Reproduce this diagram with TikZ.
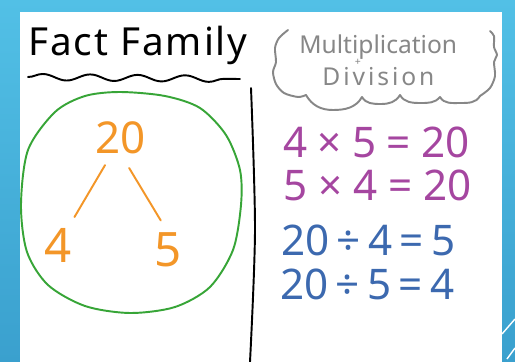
\documentclass[tikz,border=0pt]{standalone}
\usepackage{fontspec}
\setmainfont{Noto Sans}
\definecolor{ffsky}{RGB}{82,192,230}
\definecolor{ffskydark}{RGB}{58,160,206}
\definecolor{fforange}{RGB}{243,150,40}
\definecolor{ffgreen}{RGB}{55,165,55}
\definecolor{ffpurple}{RGB}{165,70,160}
\definecolor{ffnavy}{RGB}{60,105,175}
\definecolor{ffgray}{RGB}{135,135,135}
\usetikzlibrary{decorations.pathmorphing}
\tikzset{
  pen/.style={line width=1.1pt, line cap=round, line join=round},
  eqline/.style={anchor=base west, inner sep=0pt, font=\fontsize{24}{28}\selectfont},
  digit/.style={inner sep=0pt, text=fforange},
}

\begin{document}
\begin{tikzpicture}[x=0.02cm, y=0.02cm]
  \useasboundingbox (0,0) rectangle (515,-362);

  %--- Slide background ---
  \shade[top color=ffsky, bottom color=ffskydark] (0,0) rectangle (515,-362);
  \fill[white] (20,-12) rectangle (502,-362);
  \draw[white, line width=0.8pt] (515,-319) -- (502,-334);
  \draw[white, line width=0.8pt] (515,-348) -- (507,-359);

  %--- Title ---
  \node[anchor=base west, inner sep=0pt, font=\fontsize{22}{26}\selectfont\addfontfeature{LetterSpace=5}] (title) at (28,-55) {Fact Family};
  \draw[pen, decorate, decoration={snake, amplitude=1.8pt, segment length=27pt}] (28,-77) -- (240,-79);

  %--- Cloud ---
  \draw[pen, ffgray] plot[smooth] coordinates {(288,-30) (279,-38) (275,-48) (276,-62) (273,-72) (276,-84) (284,-93) (298,-97) (306,-95)};
  \draw[pen, ffgray] (306,-95) to[out=-60,in=180] (333,-110) to[out=0,in=-120] (362,-97)
    to[out=-60,in=180] (381,-104) to[out=0,in=-120] (400,-95)
    to[out=-60,in=180] (420,-103) to[out=0,in=-130] (440,-97)
    to[out=-60,in=180] (460,-103) to[out=0,in=-120] (480,-96);
  \draw[pen, ffgray] plot[smooth] coordinates {(480,-96) (490,-88) (495,-76) (494,-62) (497,-55) (494,-47) (494,-36) (490,-31)};
  \node[anchor=base west, inner sep=0pt, text depth=0pt, text=ffgray, font=\fontsize{14}{16}\selectfont] (mult) at (299,-53) {Multiplication};
  \node[anchor=base, inner sep=0pt, text height=4pt, text depth=0pt, text=ffgray, font=\fontsize{6}{7}\selectfont] (plus) at (358,-65) {+};
  \node[anchor=base west, inner sep=0pt, text=ffgray, font=\fontsize{14}{16}\selectfont\addfontfeature{LetterSpace=12}] (divi) at (322,-85) {Division};

  %--- Divider ---
  \draw[pen, black] plot[smooth] coordinates {(251,-88) (255,-230) (250,-362)};

  %--- Number bond ---
  \draw[pen, ffgreen] plot[smooth cycle] coordinates {(120,-92) (165,-96) (200,-108) (226,-135) (240,-170) (241,-205) (233,-250) (210,-287) (175,-307) (130,-313) (85,-306) (48,-285) (27,-252) (21,-205) (28,-150) (55,-112) (85,-96)};
  \node[digit, font=\fontsize{25}{28}\selectfont] (n20) at (121,-138) {20};
  \node[digit, font=\fontsize{27}{30}\selectfont] (n4) at (58,-245) {4};
  \node[digit, font=\fontsize{27}{30}\selectfont] (n5) at (168,-250) {5};
  \draw[pen, fforange, shorten <=7pt, shorten >=7pt] (n20) -- (n4);
  \draw[pen, fforange, shorten <=9pt, shorten >=8pt] (n20.south) -- (n5.north);

  %--- Facts ---
  \node[eqline, text=ffpurple] (f1) at (283,-157) {\makebox[106pt][s]{4 × 5 = 20}};
  \node[eqline, text=ffpurple] (f2) at (283,-200) {\makebox[107pt][s]{5 × 4 = 20}};
  \node[eqline, text=ffnavy] (f3) at (281,-255) {\makebox[96pt][s]{20 ÷ 4 = 5}};
  \node[eqline, text=ffnavy] (f4) at (280,-299) {\makebox[94pt][s]{20 ÷ 5 = 4}};
\end{tikzpicture}
\end{document}
